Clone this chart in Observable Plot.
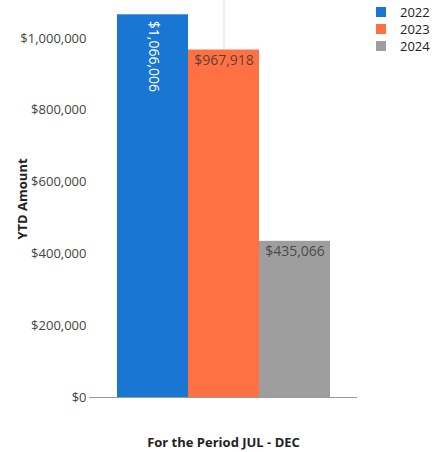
<!DOCTYPE html>
<html>
<head>
<meta charset="utf-8">
<script src="https://cdn.jsdelivr.net/npm/d3@7"></script>
<script src="https://cdn.jsdelivr.net/npm/@observablehq/plot@0.6"></script>
<style>
  body { margin: 0; background: #fff; font-family: "Open Sans", sans-serif; }
  #wrap { position: relative; width: 445px; height: 452px; }
  #legend { position: absolute; left: 376px; top: 3px; font: 13px "Open Sans", sans-serif; color: #222; }
  #legend .item { display: flex; align-items: center; height: 17px; }
  #legend .sw { width: 10px; height: 10px; margin-right: 14px; }
  svg g[aria-label="y-axis label"] text, svg g[aria-label="x-axis label"] text { font-weight: bold; fill: #222; }
</style>
</head>
<body>
<div id="wrap"><div id="legend"></div></div>
<script>
const period = "JUL - DEC";
const years = ["2022", "2023", "2024"];
const values = [1066006, 967918, 435066];
const colors = ["#1976d2", "#ff7043", "#9e9e9e"];
const yTicks = [0, 200000, 400000, 600000, 800000, 1000000];

const data = years.map((year, i) => ({year, value: values[i]}));
const fmt = d3.format("$,");

const chart = Plot.plot({
  width: 445,
  height: 452,
  marginLeft: 89,
  marginRight: 88,
  marginTop: 0,
  marginBottom: 55,
  style: {fontFamily: "Open Sans, sans-serif", fontSize: "13px", color: "#444", background: "#fff"},
  x: {domain: years, paddingInner: 0, paddingOuter: 0.377, label: null, axis: null},
  y: {domain: [0, 1105850], label: null, axis: null},
  color: {domain: years, range: colors},
  marks: [
    Plot.gridY(yTicks, {stroke: "#e6e6e6", strokeOpacity: 1, x1: 91, x2: 357}),
    Plot.gridX([years[1]], {stroke: "#dcdcdc", strokeOpacity: 1}),
    Plot.barY(data, {x: "year", y: "value", fill: "year", inset: 0}),
    Plot.text(data.filter(d => d.year === years[0]), {
      x: "year", y: "value", text: d => fmt(d.value), rotate: 90,
      textAnchor: "start", dy: 6, fill: "#fff", fontSize: 14
    }),
    Plot.text(data.filter(d => d.year !== years[0]), {
      x: "year", y: "value", text: d => fmt(d.value),
      lineAnchor: "top", dy: 5, fill: "#333", fillOpacity: 0.8, fontSize: 14
    }),
    Plot.ruleY([0], {stroke: "#999"}),
    Plot.axisY(yTicks, {tickFormat: fmt, tickSize: 0, tickPadding: 3, label: "YTD Amount",
      labelAnchor: "center", labelOffset: 72, labelArrow: "none", fill: "#444"}),
    Plot.axisX({ticks: [], tickSize: 0, label: "For the Period " + period,
      labelAnchor: "center", labelOffset: 49, labelArrow: "none"})
  ]
});
document.getElementById("wrap").prepend(chart);

const legend = document.getElementById("legend");
years.forEach((y, i) => {
  const item = document.createElement("div");
  item.className = "item";
  item.innerHTML = `<div class="sw" style="background:${colors[i]}"></div><span>${y}</span>`;
  legend.appendChild(item);
});
</script>
</body>
</html>
